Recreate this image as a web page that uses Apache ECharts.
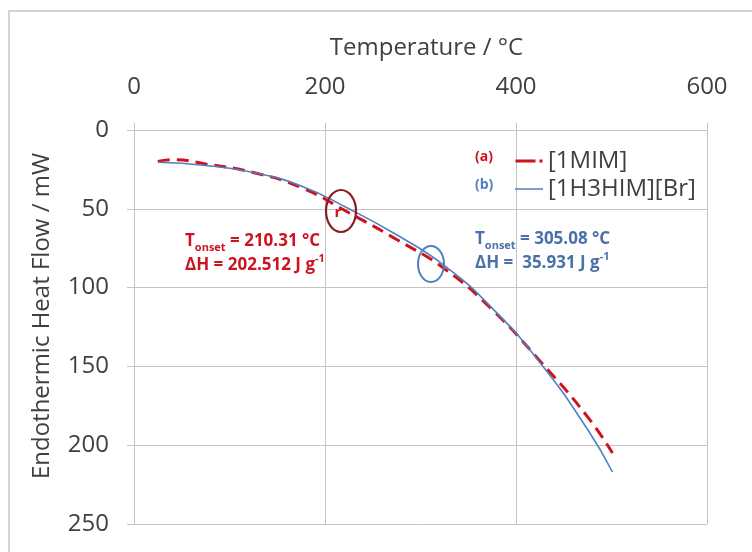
<!DOCTYPE html>
<html><head><meta charset="utf-8">
<script src="https://cdn.jsdelivr.net/npm/echarts@6/dist/echarts.min.js"></script>
<style>html,body{margin:0;padding:0;background:#fff}#c{width:752px;height:552px}</style>
</head><body><div id="c"></div>
<script>
// Data
const xTicks = [0, 200, 400, 600];
const yTicks = [0, 50, 100, 150, 200, 250];
const tempA = [25, 40, 75, 125, 175, 225, 275, 325, 375, 425, 475, 501];
const flowA = [20, 18.8, 21.5, 27, 36.5, 52.5, 69.5, 88, 114, 146.5, 182, 205];
const tempB = [25, 75, 125, 175, 225, 275, 325, 375, 425, 475, 501];
const flowB = [20.5, 22.5, 27, 35.5, 50, 66.5, 86, 113, 147.5, 190, 217];
const nameA = '[1MIM]';
const nameB = '[1H3HIM][Br]';

const FONT = 'Open Sans';
const TXT = '#404040';
const GRID = '#c4c4c4';
const RED = '#d0121b';
const BLUE = '#4f7fbf';

const chart = echarts.init(document.getElementById('c'));
const pairs = (xs, ys) => xs.map((x, i) => [x, ys[i]]);

const richLabel = (color) => ({
  main: {fontFamily: FONT, fontSize: 17, fontWeight: 'bold', fill: color, lineHeight: 24},
  sub: {fontFamily: FONT, fontSize: 11, fontWeight: 'bold', fill: color, verticalAlign: 'bottom', lineHeight: 24, padding: [10, 0, 0, 0]},
  sup: {fontFamily: FONT, fontSize: 11, fontWeight: 'bold', fill: color, verticalAlign: 'top', lineHeight: 24, padding: [0, 0, 9, 0]}
});

chart.setOption({
  animation: false,
  grid: {left: 134, right: 45, top: 130, bottom: 28},
  xAxis: {
    type: 'value', position: 'top', min: xTicks[0], max: xTicks[xTicks.length - 1], interval: 200,
    name: 'Temperature / °C', nameLocation: 'middle', nameGap: 70,
    nameTextStyle: {fontFamily: FONT, fontSize: 24, color: TXT, padding: [0, 0, 0, 12]},
    axisLine: {show: true, lineStyle: {color: GRID}},
    axisTick: {show: true, length: 7, lineStyle: {color: GRID}},
    axisLabel: {fontFamily: FONT, fontSize: 24, color: TXT, margin: 31},
    splitLine: {show: true, lineStyle: {color: GRID}}
  },
  yAxis: {
    type: 'value', inverse: true, min: yTicks[0], max: yTicks[yTicks.length - 1], interval: 50,
    name: 'Endothermic Heat Flow / mW', nameLocation: 'middle', nameGap: 80, nameRotate: 90,
    nameTextStyle: {fontFamily: FONT, fontSize: 24, color: TXT, padding: [0, 0, 0, 22]},
    axisLine: {show: true, lineStyle: {color: GRID}},
    axisTick: {show: true, length: 7, lineStyle: {color: GRID}},
    axisLabel: {fontFamily: FONT, fontSize: 24, color: TXT, margin: 25},
    splitLine: {show: true, lineStyle: {color: GRID}}
  },
  legend: {
    orient: 'vertical', left: 510, top: 143, itemGap: 2, itemWidth: 28, itemHeight: 3,
    symbolKeepAspect: true,
    textStyle: {fontFamily: FONT, fontSize: 24, color: TXT, lineHeight: 26},
    data: [
      {name: nameA, icon: 'path://M0,0H20V3H0Z M24,0H27V3H24Z', itemStyle: {color: RED}},
      {name: nameB, icon: 'path://M0,0H28V1.5H0Z', itemStyle: {color: BLUE}}
    ]
  },
  series: [
    {name: nameB, type: 'line', data: pairs(tempB, flowB), smooth: 0.5, symbol: 'none',
     lineStyle: {color: BLUE, width: 1.6}, itemStyle: {color: BLUE}, z: 3},
    {name: nameA, type: 'line', data: pairs(tempA, flowA), smooth: 0.5, symbol: 'none',
     lineStyle: {color: RED, width: 3, type: [12, 7]}, itemStyle: {color: RED}, z: 2}
  ],
  graphic: [
    {type: 'rect', shape: {x: 9, y: 11, width: 760, height: 560}, style: {fill: 'none', stroke: '#c8c8c8', lineWidth: 1.5}, silent: true},
    {type: 'text', left: 475, top: 150, style: {text: '(a)', fontFamily: FONT, fontSize: 14, fontWeight: 'bold', fill: RED}},
    {type: 'text', left: 475, top: 178, style: {text: '(b)', fontFamily: FONT, fontSize: 14, fontWeight: 'bold', fill: BLUE}},
    {type: 'ellipse', shape: {cx: 341, cy: 211, rx: 15, ry: 21}, style: {fill: 'none', stroke: '#8c1c20', lineWidth: 2.2}, z: 10},
    {type: 'text', x: 338, y: 213, style: {text: 'r', fontFamily: FONT, fontSize: 15, fontWeight: 'bold', fill: RED, align: 'center', verticalAlign: 'middle'}, z: 10},
    {type: 'ellipse', shape: {cx: 431, cy: 264, rx: 13, ry: 18}, style: {fill: 'none', stroke: '#4f7fbf', lineWidth: 2}, z: 10},
    {type: 'text', left: 185, top: 232, style: {
      text: '{main|T}{sub|onset}{main| = 210.31 °C}\n{main|ΔH = 202.512 J g}{sup|-1}', rich: richLabel('#cc1420')}},
    {type: 'text', left: 475, top: 230, style: {
      text: '{main|T}{sub|onset}{main| = 305.08 °C}\n{main|ΔH =  35.931 J g}{sup|-1}', rich: richLabel('#4a72a8')}}
  ]
});
</script></body></html>
